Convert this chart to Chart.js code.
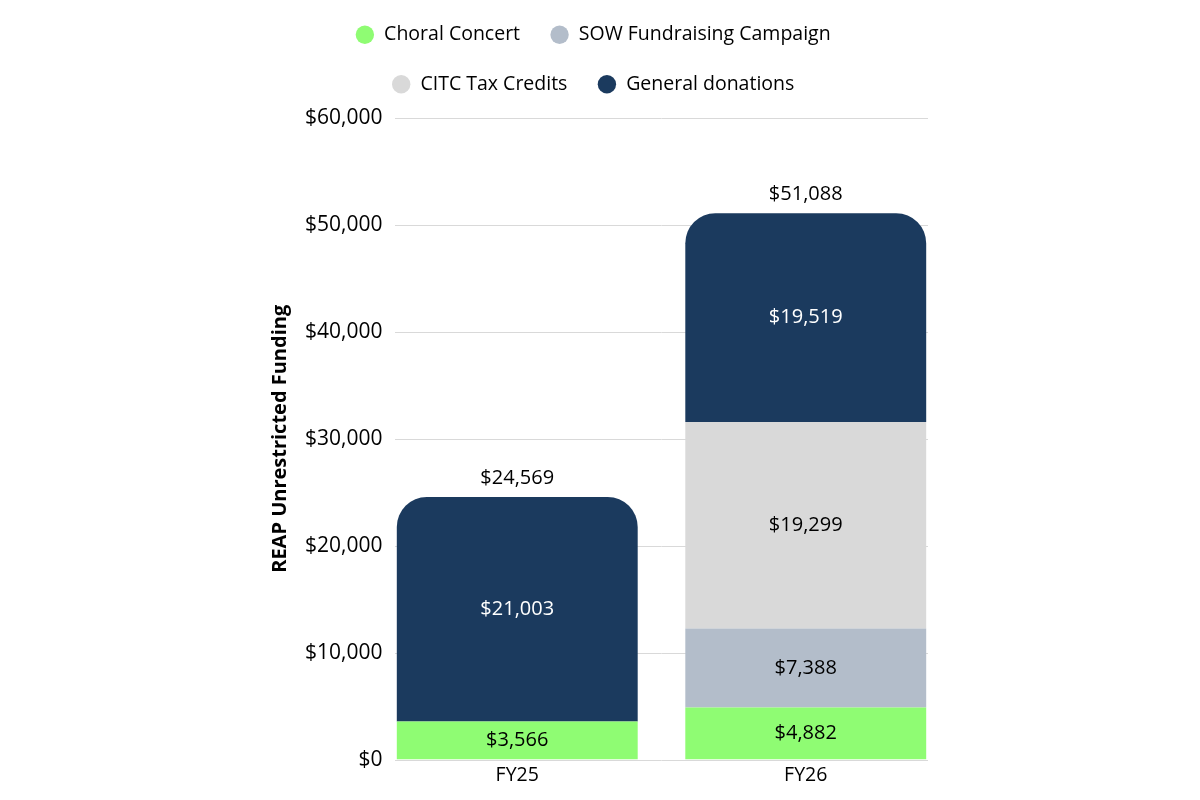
<!DOCTYPE html>
<html>
<head>
<meta charset="utf-8">
<script src="https://cdn.jsdelivr.net/npm/chart.js@4"></script>
<style>
  html, body { margin: 0; padding: 0; background: #ffffff; }
  #wrap { width: 1200px; height: 800px; }
</style>
</head>
<body>
<div id="wrap"><canvas id="fundingChart" width="1200" height="800"></canvas></div>
<script>
// chart data
const years = ['FY25', 'FY26'];
const choralConcert = [3566, 4882];
const sowCampaign = [0, 7388];
const citcCredits = [0, 19299];
const generalDonations = [21003, 19519];
const yTicks = [0, 10000, 20000, 30000, 40000, 50000, 60000];

const FONT = '"Open Sans", sans-serif';

function money(v) {
    return '$' + v.toLocaleString('en-US');
}

// extra space between the legend and the plot
const legendGap = {
    id: 'legendGap',
    afterInit(chart) {
        const legend = chart.legend;
        if (!legend) return;
        const fit = legend.fit;
        legend.fit = function () {
            fit.call(this);
            this.height += 14;
        };
    }
};

// light grid lines, a bit shorter than the plot area like the original
const gridPlugin = {
    id: 'shortGrid',
    beforeDatasetsDraw(chart) {
        const ctx = chart.ctx;
        const y = chart.scales.y;
        const area = chart.chartArea;
        ctx.save();
        ctx.strokeStyle = '#d9d9d9';
        ctx.lineWidth = 1;
        yTicks.forEach(t => {
            const py = Math.round(y.getPixelForValue(t)) + 0.5;
            ctx.beginPath();
            ctx.moveTo(area.left + 22, py);
            ctx.lineTo(area.right - 22, py);
            ctx.stroke();
        });
        ctx.restore();
    }
};

// value labels inside segments and totals on top
const labelPlugin = {
    id: 'valueLabels',
    afterDatasetsDraw(chart) {
        const ctx = chart.ctx;
        ctx.save();
        ctx.font = '20px ' + FONT;
        ctx.textAlign = 'center';
        ctx.textBaseline = 'middle';
        const tops = [];
        chart.data.datasets.forEach((ds, di) => {
            const meta = chart.getDatasetMeta(di);
            meta.data.forEach((bar, i) => {
                const v = ds.data[i];
                if (!v) return;
                ctx.fillStyle = ds.labelColor;
                ctx.fillText(money(v), bar.x, (bar.y + bar.base) / 2);
                if (tops[i] === undefined || bar.y < tops[i].y) tops[i] = { x: bar.x, y: bar.y };
            });
        });
        ctx.fillStyle = '#000000';
        years.forEach((yr, i) => {
            const total = choralConcert[i] + sowCampaign[i] + citcCredits[i] + generalDonations[i];
            ctx.fillText(money(total), tops[i].x, tops[i].y - 19);
        });
        ctx.restore();
    }
};

const ctx = document.getElementById('fundingChart').getContext('2d');
new Chart(ctx, {
    type: 'bar',
    data: {
        labels: years,
        datasets: [
            { label: 'Choral Concert', data: choralConcert, backgroundColor: '#8ffc73', labelColor: '#000000' },
            { label: 'SOW Fundraising Campaign', data: sowCampaign, backgroundColor: '#b3bdca', labelColor: '#000000' },
            { label: 'CITC Tax Credits', data: citcCredits, backgroundColor: '#d9d9d9', labelColor: '#000000' },
            {
                label: 'General donations', data: generalDonations, backgroundColor: '#1b3a5e', labelColor: '#ffffff',
                borderRadius: { topLeft: 30, topRight: 30, bottomLeft: 0, bottomRight: 0 },
                borderSkipped: false
            }
        ]
    },
    options: {
        responsive: false,
        animation: false,
        datasets: {
            bar: { categoryPercentage: 1, barPercentage: 0.835 }
        },
        layout: {
            padding: { left: 236, right: 250, top: -5, bottom: 9 }
        },
        plugins: {
            legend: {
                position: 'top',
                labels: {
                    usePointStyle: true,
                    pointStyle: 'circle',
                    boxWidth: 19,
                    boxHeight: 13,
                    padding: 30,
                    color: '#000000',
                    font: { family: FONT, size: 19.5 }
                }
            },
            tooltip: { enabled: false }
        },
        scales: {
            x: {
                stacked: true,
                grid: { display: false, drawTicks: false },
                border: { display: false },
                ticks: { color: '#000000', padding: 4, font: { family: FONT, size: 19.5 } }
            },
            y: {
                stacked: true,
                min: 0,
                max: 60000,
                grid: { display: false, drawTicks: false },
                border: { display: false },
                afterFit(scale) { scale.width = 137; },
                ticks: {
                    stepSize: 10000,
                    mirror: true,
                    crossAlign: 'far',
                    padding: -68,
                    color: '#000000',
                    font: { family: FONT, size: 21 },
                    callback: v => money(v)
                },
                title: {
                    display: true,
                    text: 'REAP Unrestricted Funding',
                    color: '#000000',
                    padding: { top: 32, bottom: 4 },
                    font: { family: FONT, size: 20, weight: 'bold' }
                }
            }
        }
    },
    plugins: [legendGap, gridPlugin, labelPlugin]
});
</script>
</body>
</html>
